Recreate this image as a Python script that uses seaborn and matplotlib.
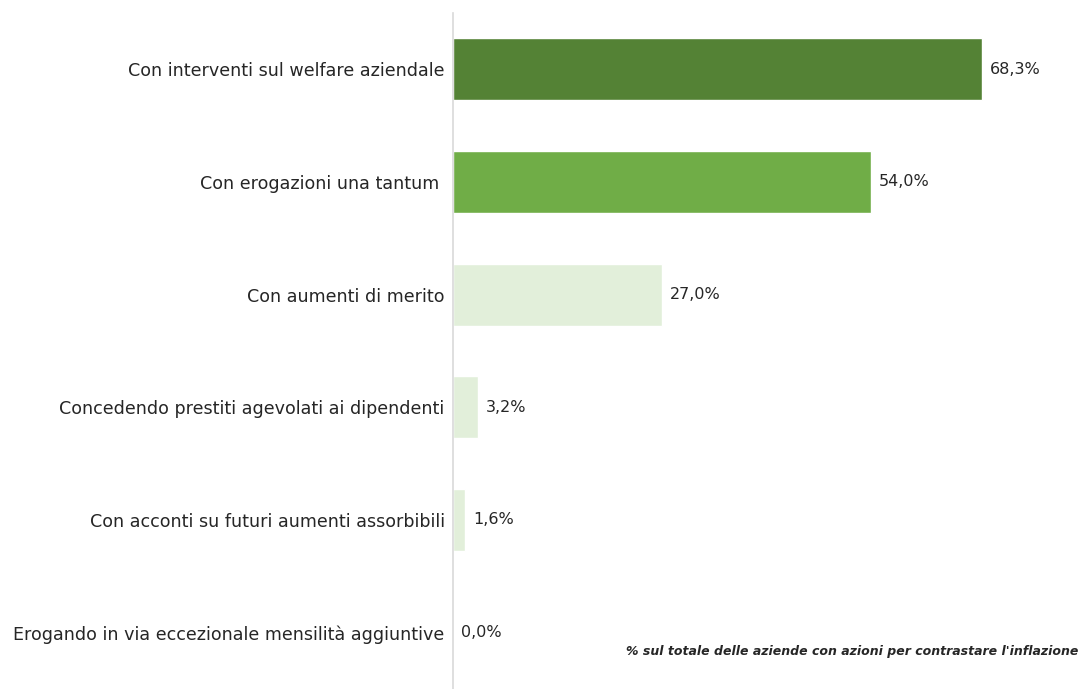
import matplotlib
matplotlib.use("Agg")
import matplotlib.pyplot as plt
import seaborn as sns
import pandas as pd

categories = [
    "Con interventi sul welfare aziendale",
    "Con erogazioni una tantum ",
    "Con aumenti di merito",
    "Concedendo prestiti agevolati ai dipendenti",
    "Con acconti su futuri aumenti assorbibili",
    "Erogando in via eccezionale mensilità aggiuntive",
]
values = [68.3, 54.0, 27.0, 3.2, 1.6, 0.0]
colors = ["#548235", "#70AD47", "#E2EFDA", "#E2EFDA", "#E2EFDA", "#E2EFDA"]
footnote = "% sul totale delle aziende con azioni per contrastare l'inflazione"

sns.set_theme(style="white")
plt.rcParams["font.family"] = ["DejaVu Sans"]

df = pd.DataFrame({"cat": categories, "val": values})

fig = plt.figure(figsize=(10.82, 6.89), dpi=100)
ax = fig.add_axes([453 / 1082, 0.0, 1 - 453 / 1082, 676 / 689])

sns.barplot(data=df, y="cat", x="val", hue="cat", palette=colors,
            orient="h", width=0.55, legend=False, ax=ax, saturation=1)

ax.set_xlim(0, 81.2)
ax.set_ylim(5.5, -0.5)
ax.set_xlabel("")
ax.set_ylabel("")
ax.set_xticks([])
for s in ["top", "right", "bottom"]:
    ax.spines[s].set_visible(False)
ax.spines["left"].set_color("#D9D9D9")
ax.spines["left"].set_linewidth(1.2)
ax.tick_params(axis="y", length=0, pad=6, labelsize=12.6, labelcolor="#262626")

for i, v in enumerate(values):
    ax.text(v + 1.0, i, f"{v:.1f}%".replace(".", ","), va="center", ha="left",
            fontsize=11.5, color="#262626")

fig.text(1078 / 1082, 1 - 652 / 689, footnote, ha="right", va="center",
         fontsize=9.0, fontweight="bold", fontstyle="italic", color="#262626")

fig.savefig("out.png", dpi=100)
